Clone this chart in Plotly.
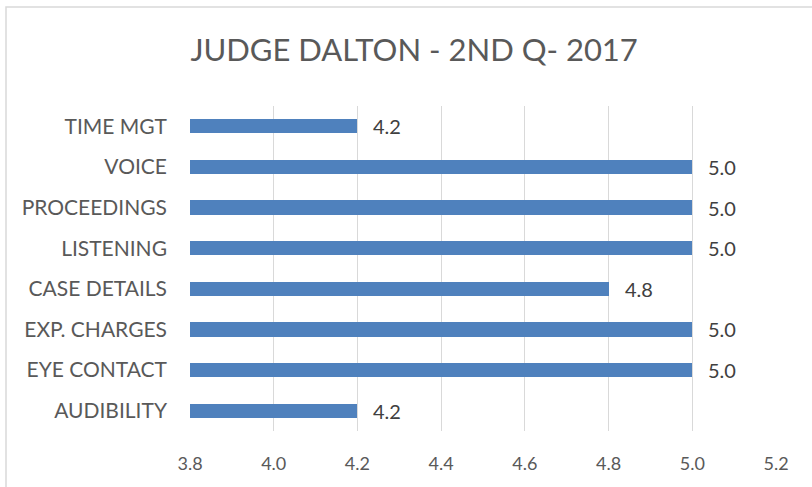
import plotly.graph_objects as go

categories = ["AUDIBILITY", "EYE CONTACT", "EXP. CHARGES", "CASE DETAILS",
              "LISTENING", "PROCEEDINGS", "VOICE", "TIME MGT"]
values = [4.2, 5.0, 5.0, 4.8, 5.0, 5.0, 5.0, 4.2]
x_ticks = [3.8, 4.0, 4.2, 4.4, 4.6, 4.8, 5.0, 5.2]
title_text = "JUDGE DALTON - 2ND Q- 2017"

FONT = "Lato, 'Open Sans', sans-serif"
BASE = 3.8

fig = go.Figure()
fig.add_trace(go.Bar(
    y=categories,
    x=[v - BASE for v in values],
    base=BASE,
    orientation="h",
    marker=dict(color="#4F81BD", line=dict(width=0)),
    width=0.35,
    hoverinfo="skip",
))

for c, v in zip(categories, values):
    fig.add_annotation(x=v, y=c, text=f"{v:.1f}", showarrow=False,
                       xanchor="left", xshift=14,
                       font=dict(family=FONT, size=20, color="#404040"))

fig.update_layout(
    width=812, height=487,
    margin=dict(l=190, r=36, t=106, b=56, autoexpand=False),
    paper_bgcolor="white", plot_bgcolor="white",
    showlegend=False,
    bargap=0,
    title=dict(text=title_text, x=0.51, xanchor="center", y=0.897, yanchor="middle",
               font=dict(family=FONT, size=31, color="#595959")),
    xaxis=dict(range=[3.8, 5.2], tickvals=x_ticks,
               ticktext=[f"{t:.1f}" for t in x_ticks],
               showgrid=True, gridcolor="#d9d9d9", gridwidth=1.3,
               zeroline=False, showline=False, ticks="",
               ticklabelstandoff=20,
               tickfont=dict(family=FONT, size=18, color="#595959")),
    yaxis=dict(categoryorder="array", categoryarray=categories,
               showgrid=False, zeroline=False, showline=False, ticks="",
               ticklabelstandoff=22,
               tickfont=dict(family=FONT, size=21, color="#595959")),
    shapes=[dict(type="rect", xref="paper", yref="paper",
                 x0=(6 - 190) / 586, x1=(830 - 190) / 586,
                 y0=(431 - 500) / 325, y1=(431 - 7) / 325,
                 line=dict(color="#d9d9d9", width=1.5), layer="below")],
)

fig.write_html("out.html", config={"displayModeBar": False},
               post_script="document.body.style.margin='0';document.body.style.overflow='hidden';")
